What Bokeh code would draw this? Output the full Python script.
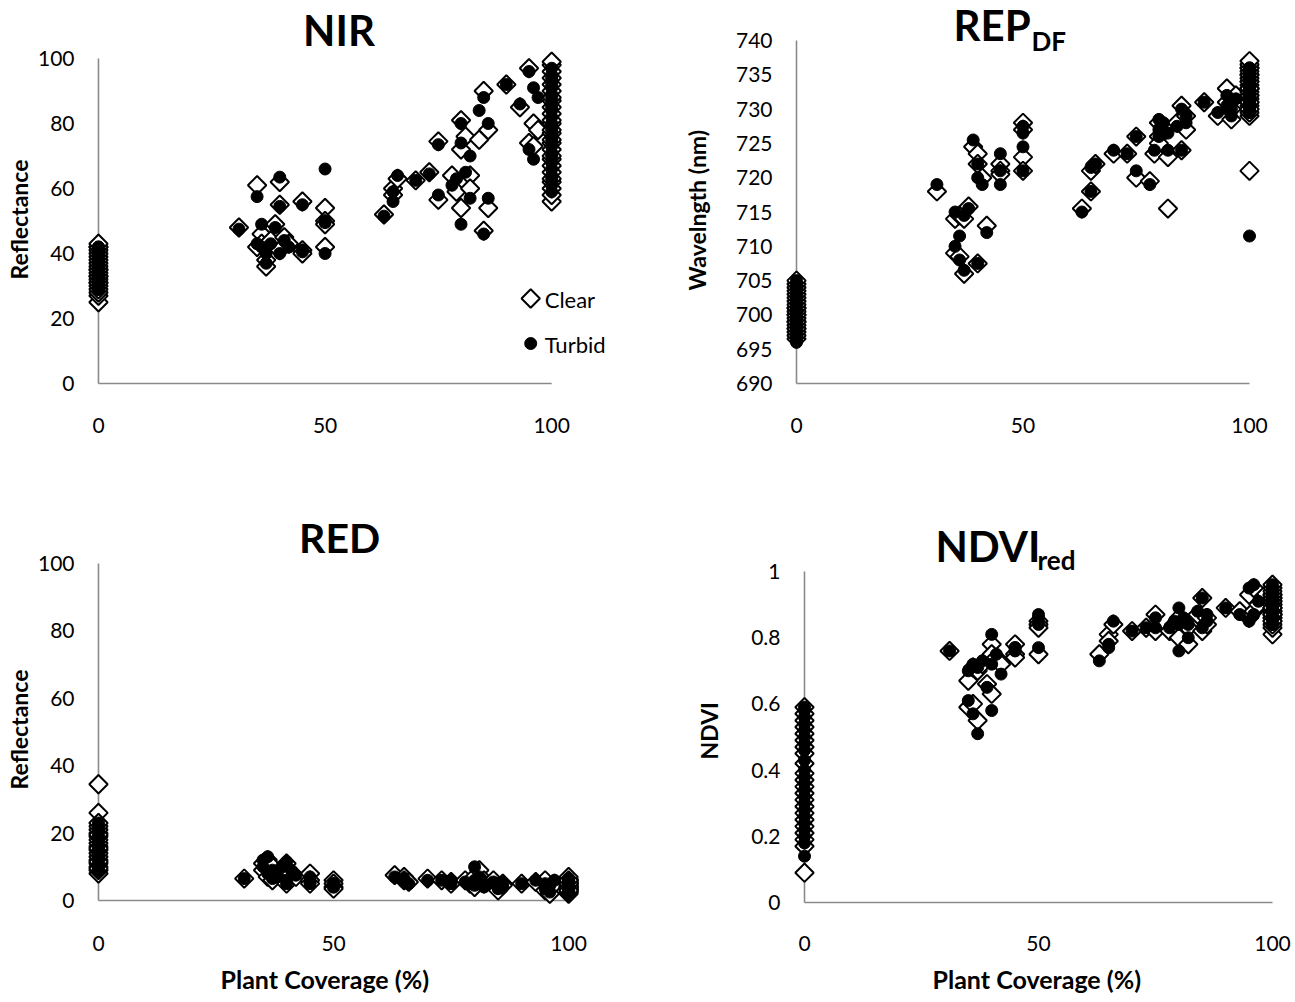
from bokeh.plotting import figure
from bokeh.layouts import column, row
from bokeh.models import Range1d, Label, Title, FixedTicker, NumeralTickFormatter
from bokeh.embed import file_html
from bokeh.resources import INLINE

FONT = "Lato"
AXIS_GREY = "#8a8a8a"

# ---------------------------------------------------------------- data
# Plant coverage (%) of every sampled plot (shared by all four indices)
coverage = [
    0, 0, 0, 0, 0, 0, 0, 0, 0, 0, 0, 0, 0, 0, 0, 0, 0, 0, 0, 0, 0, 0,
    31, 35, 35, 36, 36, 37, 37, 38, 39, 40, 40, 40, 41, 42, 45, 45, 45, 50, 50, 50, 50,
    63, 65, 65, 66, 70, 73, 75, 75, 78, 79, 80, 80, 80, 81, 82, 82, 84, 85, 85, 86, 86,
    90, 93, 95, 95, 96, 96, 97,
    100, 100, 100, 100, 100, 100, 100, 100, 100, 100, 100, 100, 100,
    100, 100, 100, 100, 100, 100, 100, 100, 100, 100, 100, 100, 100,
]

# NIR reflectance
nir_clear = [
    25, 27, 28, 29, 30, 31, 31, 32, 33, 33, 34, 35, 35, 36, 37, 38, 39, 40, 41, 42, 42, 43,
    48, 61, 42, 46, 43, 38, 36, 44, 49, 62, 55, 41, 45, 43, 56, 41, 40, 54, 42, 50, 49,
    52, 60, 58, 63, 62.5, 65, 74.5, 56.5, 64, 59, 81, 72, 54, 76, 64, 60, 75, 90, 47, 78, 54,
    92, 85, 97, 74, 80, 73, 78,
    56, 58, 60, 62, 63, 65, 67, 69, 70, 72, 74, 75, 77,
    78, 80, 81, 83, 85, 87, 88, 90, 92, 94, 96, 98, 99,
]
nir_turbid = [
    29, 29, 30, 31, 31, 32, 33, 33, 34, 34, 35, 36, 36, 37, 37, 38, 39, 40, 41, 41, 42, 42,
    47.5, 57.5, 43, 49, 42, 40, 37, 43, 48, 63.5, 54.5, 40, 44, 42, 55, 40.5, 41, 50, 40, 49.5, 66,
    51.5, 59, 56, 64, 62.5, 64.5, 73.5, 58, 61, 63, 80, 74, 49, 65, 70, 57, 84, 88, 46, 80, 57,
    92, 86, 96, 72, 91, 69, 88,
    59, 61, 63, 64, 66, 68, 70, 71, 73, 75, 76, 78, 79,
    80, 82, 84, 85, 86, 88, 89, 91, 92, 93, 94, 95, 97,
]

# Red-edge position, derivative method (nm)
rep_clear = [
    696.5, 697, 697.5, 698, 698, 698.5, 699, 699, 699.5, 700, 700, 700.5, 701, 701, 701.5,
    702, 702.5, 703, 703.5, 704, 704.5, 705,
    718, 714, 709, 714.5, 708.5, 706, 714, 715.8, 724.5, 723.5, 722, 707.5, 720, 713,
    722, 721, 720.5, 728, 723, 721, 727,
    715.5, 718, 721, 722, 723.5, 723.5, 726, 720, 719.5, 723.5, 726, 728, 725, 727.5,
    715.5, 723, 728, 730.5, 724, 727, 729, 731, 729, 731, 733, 730, 728.5, 732,
    729, 729.5, 730, 730.5, 731, 731.5, 732, 732, 732.5, 733, 733, 733.5, 734,
    734, 734.5, 735, 735, 735.5, 736, 736, 736.5, 737, 721, 730, 731, 733,
]
rep_turbid = [
    696, 696.5, 697, 697.5, 698, 698.5, 699, 699.5, 699.5, 700, 700.5, 700.5, 701, 701.5,
    702, 702.5, 703, 703.5, 704, 704.5, 704.5, 705,
    719, 715, 710, 711.5, 708, 706.5, 714.5, 715.5, 725.5, 722, 720, 707.5, 719, 712,
    723.5, 721, 719, 727.5, 724.5, 721, 726.5,
    715, 718, 721.5, 722, 724, 723.5, 726, 721, 719, 724, 727, 728.5, 726, 728,
    726.5, 724, 727.5, 730, 724, 728, 729, 731, 729.5, 730.5, 732, 730, 729, 731.5,
    729.5, 730, 730.5, 731, 731, 731.5, 732, 732.5, 733, 733, 733.5, 734, 734,
    734.5, 735, 735, 735.5, 736, 736, 730, 732, 733, 734, 711.5, 730.5, 735,
]

# RED reflectance
red_clear = [
    34.5, 26, 8, 9, 10, 11, 12, 13, 14, 15, 16, 17, 18, 19, 20, 21, 22, 23, 9.5, 11.5, 15.5, 19.5,
    6.5, 11, 9, 12, 7, 6, 10, 8, 9, 11, 7, 5, 8, 7, 8, 6, 5, 6, 5, 4, 3.5,
    7.5, 7, 6, 5.5, 6.5, 6, 5.5, 5, 6, 5, 7, 5, 4, 9, 6, 5, 6, 4, 3, 5, 4.5,
    5, 5.5, 6, 3, 2, 4, 5,
    2, 2.5, 3, 3, 3.5, 3.5, 4, 4, 4, 4.5, 4.5, 5, 5,
    5, 5.5, 5.5, 6, 6, 6.5, 7, 2.5, 3.5, 4, 5, 6, 3,
]
red_turbid = [
    9, 9.5, 10, 11, 12, 13, 14, 15, 15.5, 16, 17, 18, 18.5, 19, 20, 21, 22, 23, 10.5, 12.5, 14.5, 17.5,
    6.5, 12, 10, 13, 8, 6.5, 9, 7, 10, 11.5, 6, 5, 9, 7.5, 7, 5.5, 5, 5, 4.5, 4, 4,
    7, 6.5, 5.5, 5, 6, 6, 5, 6, 5.5, 5, 10, 6, 4.5, 7, 5, 4, 5.5, 4, 3.5, 5, 4,
    5, 6, 5, 3.5, 2.5, 4.5, 6,
    2.5, 3, 3, 3.5, 3.5, 4, 4, 4.5, 4.5, 5, 5, 5, 5.5,
    5.5, 6, 6, 6.5, 3, 4, 4.5, 5, 5.5, 3.5, 4, 5, 6,
]

# NDVI (red band)
ndvi_clear = [
    0.09, 0.17, 0.19, 0.21, 0.23, 0.25, 0.27, 0.29, 0.31, 0.33, 0.35, 0.37, 0.39, 0.42,
    0.45, 0.47, 0.49, 0.51, 0.53, 0.55, 0.57, 0.59,
    0.76, 0.59, 0.67, 0.71, 0.60, 0.55, 0.70, 0.72, 0.66, 0.78, 0.75, 0.63, 0.74, 0.72,
    0.78, 0.75, 0.74, 0.85, 0.84, 0.75, 0.83,
    0.75, 0.81, 0.79, 0.84, 0.82, 0.83, 0.87, 0.82, 0.82, 0.84, 0.86, 0.83, 0.80, 0.85,
    0.78, 0.83, 0.87, 0.92, 0.82, 0.86, 0.84, 0.89, 0.88, 0.93, 0.86, 0.95, 0.88, 0.90,
    0.81, 0.83, 0.84, 0.85, 0.86, 0.86, 0.87, 0.87, 0.88, 0.88, 0.89, 0.89, 0.90,
    0.90, 0.91, 0.91, 0.92, 0.92, 0.93, 0.93, 0.94, 0.95, 0.96, 0.85, 0.87, 0.89,
]
ndvi_turbid = [
    0.14, 0.18, 0.20, 0.22, 0.24, 0.26, 0.28, 0.30, 0.32, 0.34, 0.36, 0.38, 0.40, 0.43,
    0.46, 0.48, 0.50, 0.52, 0.54, 0.56, 0.58, 0.59,
    0.76, 0.61, 0.70, 0.72, 0.57, 0.51, 0.71, 0.73, 0.65, 0.81, 0.72, 0.58, 0.75, 0.69,
    0.77, 0.76, 0.77, 0.87, 0.86, 0.77, 0.84,
    0.73, 0.78, 0.77, 0.85, 0.82, 0.83, 0.86, 0.83, 0.83, 0.85, 0.89, 0.84, 0.76, 0.86,
    0.80, 0.84, 0.88, 0.92, 0.83, 0.87, 0.85, 0.89, 0.87, 0.95, 0.85, 0.96, 0.87, 0.91,
    0.84, 0.85, 0.86, 0.86, 0.87, 0.87, 0.88, 0.88, 0.89, 0.89, 0.90, 0.90, 0.91,
    0.91, 0.92, 0.92, 0.93, 0.93, 0.94, 0.95, 0.96, 0.86, 0.88, 0.90, 0.91, 0.89,
]

x_ticks = [0, 50, 100]
nir_ticks = [0, 20, 40, 60, 80, 100]
rep_ticks = [690, 695, 700, 705, 710, 715, 720, 725, 730, 735, 740]
red_ticks = [0, 20, 40, 60, 80, 100]
ndvi_ticks = [0, 0.2, 0.4, 0.6, 0.8, 1]

series_names = ["Clear", "Turbid"]

# ---------------------------------------------------------------- layout
# page-pixel placement of each panel: figure box, where the axis extremes
# (x = 0 / 100, y = lo / hi) sit on the page, the frame's bottom edge and
# the gap from that edge to the x tick labels
PAD = 14  # room left of the y axis so markers on it are not cut

PANELS = {
    "nir": dict(fx=0, fy=0, fw=648, fh=470, px0=97, px1=551, lo=0, hi=100,
                py_lo=383, py_hi=58, fb=397, tick_gap=20),
    "rep": dict(fx=648, fy=0, fw=647, fh=470, px0=796, px1=1249, lo=690, hi=740,
                py_lo=383, py_hi=40, fb=397, tick_gap=20),
    "red": dict(fx=0, fy=470, fw=648, fh=532, px0=97, px1=568, lo=0, hi=100,
                py_lo=900, py_hi=563, fb=913, tick_gap=22),
    "ndvi": dict(fx=648, fy=470, fw=647, fh=532, px0=804, px1=1272, lo=0, hi=1,
                 py_lo=902, py_hi=571, fb=913, tick_gap=22),
}


def scales(g):
    sx = (g["px1"] - g["px0"]) / 100.0
    sy = (g["py_lo"] - g["py_hi"]) / (g["hi"] - g["lo"])
    return sx, sy


def page_to_data(g, px, py):
    sx, sy = scales(g)
    return (px - g["px0"]) / sx, g["lo"] + (g["py_lo"] - py) / sy


def make_panel(key, clear, turbid, ticks, ylabel, ylabel_offset, ylabel_standoff,
               fmt=None, xlabel=None, xlabel_offset=0, titles=(), legend=False):
    g = PANELS[key]
    sx, sy = scales(g)
    # the frame spans the whole figure except the axis margins,
    # so titles and legend can sit inside it
    f_left = g["px0"] - PAD
    f_right = g["fx"] + g["fw"] - 1
    f_top = g["fy"] + 1
    f_bottom = g["fb"]

    p = figure(
        width=g["fw"], height=g["fh"],
        x_range=Range1d((f_left - g["px0"]) / sx, (f_right - g["px0"]) / sx),
        y_range=Range1d(g["lo"] - (f_bottom - g["py_lo"]) / sy,
                        g["lo"] + (g["py_lo"] - f_top) / sy),
        min_border_left=f_left - g["fx"], min_border_right=g["fx"] + g["fw"] - f_right,
        min_border_top=f_top - g["fy"], min_border_bottom=g["fy"] + g["fh"] - f_bottom,
        output_backend="svg", toolbar_location=None,
        background_fill_color="white", border_fill_color="white",
    )
    p.outline_line_color = None
    p.grid.visible = False

    for ax in (p.xaxis[0], p.yaxis[0]):
        ax.axis_line_color = None
        ax.major_tick_line_color = None
        ax.minor_tick_line_color = None
        ax.major_tick_out = 0
        ax.major_tick_in = 0
        ax.minor_tick_out = 0
        ax.minor_tick_in = 0
        ax.major_label_text_font = FONT
        ax.major_label_text_font_size = "21px"
        ax.major_label_text_color = "black"

    p.xaxis.ticker = FixedTicker(ticks=x_ticks)
    p.xaxis.major_label_standoff = g["tick_gap"]
    p.yaxis.ticker = FixedTicker(ticks=ticks)
    p.yaxis.major_label_standoff = 10
    if fmt:
        p.yaxis.formatter = NumeralTickFormatter(format=fmt)

    # axis titles, anchored at their start so they centre on the drawn axes
    p.add_layout(Title(text=ylabel, align="left", offset=ylabel_offset,
                       standoff=ylabel_standoff, text_font=FONT, text_font_style="bold",
                       text_font_size="23px", text_color="black"), "left")
    if xlabel:
        p.add_layout(Title(text=xlabel, align="left", offset=xlabel_offset,
                           standoff=16, text_font=FONT, text_font_style="bold",
                           text_font_size="25px", text_color="black"), "below")

    # Excel-style axis lines crossing at (0, lo)
    p.segment(x0=[0, 0], y0=[g["lo"], g["lo"]], x1=[0, 100], y1=[g["hi"], g["lo"]],
              line_color=AXIS_GREY, line_width=1.6)

    clear_style = dict(marker="square", angle=0.785398, size=13,
                       fill_color="white", line_color="black", line_width=2)
    turbid_style = dict(marker="circle", size=12,
                        fill_color="black", line_color="black", line_width=1)
    p.scatter(coverage, clear, **clear_style)
    p.scatter(coverage, turbid, **turbid_style)

    for text, px, py, size in titles:
        x, y = page_to_data(g, px, py)
        p.add_layout(Label(x=x, y=y, text=text, text_font=FONT, text_font_style="bold",
                           text_font_size=size, text_align="left",
                           text_baseline="middle", text_color="black"))

    if legend:
        # legend swatches and names, stacked 45 px apart
        for i, (name, style) in enumerate(zip(series_names, (clear_style, turbid_style))):
            mx, my = page_to_data(g, 530, 298 + 45 * i)
            p.scatter([mx], [my], **style)
            tx, ty = page_to_data(g, 544, 299 + 45 * i)
            p.add_layout(Label(x=tx, y=ty, text=name, text_font=FONT, text_font_size="22px",
                               text_align="left", text_baseline="middle",
                               text_color="black"))
    return p


p_nir = make_panel("nir", nir_clear, nir_turbid, nir_ticks, "Reflectance", 118, 4,
                   titles=[("NIR", 302, 29, "42px")], legend=True)
p_rep = make_panel("rep", rep_clear, rep_turbid, rep_ticks, "Wavelngth (nm)", 107, 44,
                   titles=[("REP", 953, 24, "42px"), ("DF", 1031, 40, "26px")])
p_red = make_panel("red", red_clear, red_turbid, red_ticks, "Reflectance", 124, 4,
                   xlabel="Plant Coverage (%)", xlabel_offset=136,
                   titles=[("RED", 298, 537, "41px")])
p_ndvi = make_panel("ndvi", ndvi_clear, ndvi_turbid, ndvi_ticks, "NDVI", 154, 52, fmt="0.[0]",
                    xlabel="Plant Coverage (%)", xlabel_offset=142,
                    titles=[("NDVI", 935, 545, "42px"), ("red", 1037, 559, "26px")])

layout = column(row(p_nir, p_rep), row(p_red, p_ndvi))

with open("out.html", "w") as f:
    f.write(file_html(layout, INLINE))
